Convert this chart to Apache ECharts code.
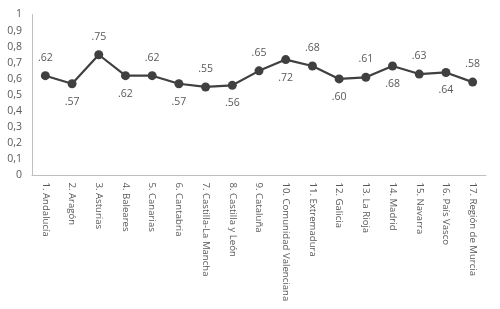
<!DOCTYPE html>
<html><head><meta charset="utf-8">
<script src="https://cdn.jsdelivr.net/npm/echarts@6/dist/echarts.min.js"></script>
<style>html,body{margin:0;padding:0;background:#fff}#c{width:500px;height:309px}</style>
</head><body><div id="c"></div>
<script>
const categories = ["1. Andalucía","2. Aragón","3. Asturias","4. Baleares","5. Canarias","6. Cantabria","7. Castilla-La Mancha","8. Castilla y León","9. Cataluña","10. Comunidad Valenciana","11. Extremadura","12. Galicia","13. La Rioja","14. Madrid","15. Navarra","16. País Vasco","17. Región de Murcia"];
const values = [0.62,0.57,0.75,0.62,0.62,0.57,0.55,0.56,0.65,0.72,0.68,0.60,0.61,0.68,0.63,0.64,0.58];
const labelPos = ["top","bottom","top","bottom","top","bottom","top","bottom","top","bottom","top","bottom","top","bottom","top","bottom","top"];
const yTicks = [0,0.1,0.2,0.3,0.4,0.5,0.6,0.7,0.8,0.9,1];

const chart = echarts.init(document.getElementById('c'), null, {renderer:'canvas'});
const font = '"Open Sans", "Noto Sans", sans-serif';
chart.setOption({
  animation:false,
  textStyle:{fontFamily:font},
  grid:{left:32,right:14,top:14.5,bottom:133.5,containLabel:false,outerBoundsMode:'none'},
  xAxis:{type:'category',data:categories,boundaryGap:true,
    axisLine:{lineStyle:{color:'#bfbfbf',width:1}},
    axisTick:{show:false},
    axisLabel:{rotate:-90,interval:0,margin:7,color:'#595959',fontSize:9.6,fontFamily:font}},
  yAxis:{type:'value',min:0,max:1,interval:0.1,
    axisLine:{show:true,lineStyle:{color:'#bfbfbf',width:1}},
    axisTick:{show:false},splitLine:{show:false},
    axisLabel:{margin:10,color:'#595959',fontSize:10.5,fontFamily:font,
      formatter:v=>{const t=yTicks.find(x=>Math.abs(x-v)<1e-9);return (t===undefined?v:t).toString().replace('.',',');}}},
  series:[{type:'line',data:values.map((v,i)=>({value:v,label:{position:labelPos[i]}})),
    lineStyle:{color:'#404040',width:2.2},
    itemStyle:{color:'#404040'},
    symbol:'circle',symbolSize:9,
    label:{show:true,color:'#595959',fontSize:10.5,fontFamily:font,distance:8,
      formatter:p=>p.value.toFixed(2).replace(/^0/,'')}}]
});
</script></body></html>
